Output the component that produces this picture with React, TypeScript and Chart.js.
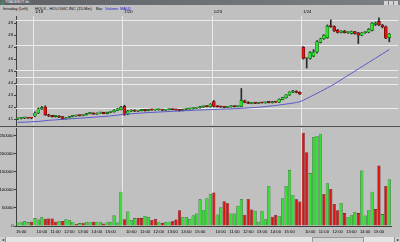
import React, { useEffect, useRef } from 'react';
import { Chart, registerables } from 'chart.js';

Chart.register(...registerables);

// ---------- categories ----------
const sessionSlots = [
  '09:30', '09:45', '10:00', '10:15', '10:30', '10:45', '11:00', '11:15', '11:30', '11:45',
  '12:00', '12:15', '12:30', '12:45', '13:00', '13:15', '13:30', '13:45', '14:00', '14:15',
  '14:30', '14:45', '15:00', '15:15', '15:30', '15:45',
];
const tradingDays = ['1/17', '1/18', '1/20', '1/23', '1/24'];
const firstDayStartSlot = 21; // the chart opens on the last five bars of 1/17

const categories: string[] = [];
tradingDays.forEach((d, di) =>
  sessionSlots.slice(di === 0 ? firstDayStartSlot : 0).forEach((s) => categories.push(d + ' ' + s)),
);

// ---------- price series (15-min bars) ----------
const opens = [
  41.00, 41.05, 41.08, 41.10, 41.07,
  41.25, 41.50, 41.85, 42.00, 41.35, 41.25, 41.20, 41.25, 41.20, 41.00, 41.10, 41.20, 41.25, 41.30, 41.27, 41.35, 41.45, 41.50, 41.40, 41.50, 41.55, 41.45, 41.55, 41.60, 41.72, 41.78,
  42.05, 41.40, 41.65, 41.75, 41.65, 41.70, 41.75, 41.70, 41.80, 41.75, 41.77, 41.80, 41.73, 41.78, 41.82, 41.78, 41.75, 41.70, 41.80, 41.84, 41.86, 41.90, 41.93, 42.02, 42.04, 42.02,
  42.45, 42.05, 42.02, 42.00, 41.96, 42.00, 42.08, 42.03, 42.06, 42.52, 42.40, 42.30, 42.35, 42.31, 42.36, 42.34, 42.40, 42.35, 42.45, 42.40, 42.62, 42.78, 43.00, 43.25, 43.32, 43.22,
  47.00, 46.08, 46.05, 46.25, 46.60, 47.40, 47.70, 47.80, 48.80, 48.72, 48.42, 48.22, 48.35, 48.20, 48.15, 48.30, 48.20, 48.00, 48.20, 48.25, 48.40, 48.90, 49.15, 48.85, 48.70, 47.80,
];
const highs = [
  41.08, 41.12, 41.14, 41.14, 41.12,
  41.60, 41.92, 42.05, 42.10, 41.40, 41.30, 41.28, 41.28, 41.22, 41.12, 41.22, 41.28, 41.32, 41.33, 41.38, 41.48, 41.52, 41.53, 41.52, 41.56, 41.57, 41.57, 41.62, 41.78, 41.88, 42.05,
  42.15, 41.72, 41.78, 41.78, 41.72, 41.77, 41.77, 41.82, 41.82, 41.80, 41.82, 41.82, 41.80, 41.84, 41.84, 41.83, 41.78, 41.82, 41.86, 41.88, 41.92, 41.96, 42.05, 42.06, 42.12, 42.28,
  42.55, 42.10, 42.06, 42.04, 42.03, 42.12, 42.10, 42.08, 43.55, 42.58, 42.45, 42.38, 42.38, 42.38, 42.40, 42.42, 42.45, 42.48, 42.48, 42.68, 42.82, 43.05, 43.28, 43.40, 43.36, 43.26,
  47.05, 46.15, 46.62, 46.80, 47.55, 47.75, 48.05, 48.85, 49.28, 48.78, 48.48, 48.38, 48.40, 48.28, 48.34, 48.33, 48.24, 48.22, 48.28, 48.55, 49.05, 49.10, 49.45, 48.90, 48.75, 48.15,
];
const lows = [
  40.95, 41.00, 41.03, 41.04, 41.02,
  41.20, 41.45, 41.80, 41.30, 41.20, 41.15, 41.15, 41.12, 40.95, 40.98, 41.08, 41.18, 41.22, 41.24, 41.25, 41.32, 41.42, 41.38, 41.38, 41.46, 41.43, 41.43, 41.52, 41.57, 41.70, 41.75,
  41.30, 41.35, 41.62, 41.62, 41.62, 41.67, 41.66, 41.68, 41.72, 41.72, 41.74, 41.70, 41.70, 41.75, 41.76, 41.72, 41.65, 41.68, 41.77, 41.80, 41.83, 41.87, 41.90, 41.96, 42.00, 41.98,
  42.00, 41.98, 41.96, 41.92, 41.94, 41.98, 42.00, 42.00, 42.02, 42.35, 42.28, 42.27, 42.28, 42.29, 42.32, 42.32, 42.34, 42.33, 42.37, 42.38, 42.60, 42.75, 42.98, 43.20, 43.18, 43.05,
  46.00, 45.25, 46.00, 46.20, 46.50, 47.35, 47.65, 47.75, 48.65, 48.30, 48.18, 48.18, 48.18, 48.15, 48.10, 48.08, 47.30, 47.95, 48.15, 48.20, 48.35, 48.80, 48.80, 48.60, 47.70, 47.45,
];
const closes = [
  41.05, 41.08, 41.10, 41.07, 41.06,
  41.50, 41.85, 41.95, 41.35, 41.25, 41.20, 41.25, 41.15, 41.00, 41.10, 41.20, 41.25, 41.28, 41.27, 41.35, 41.45, 41.48, 41.40, 41.50, 41.53, 41.45, 41.55, 41.58, 41.75, 41.85, 42.00,
  41.35, 41.68, 41.75, 41.65, 41.70, 41.75, 41.70, 41.80, 41.75, 41.77, 41.80, 41.73, 41.78, 41.82, 41.78, 41.75, 41.70, 41.80, 41.84, 41.86, 41.90, 41.93, 42.02, 42.04, 42.02, 42.25,
  42.05, 42.02, 42.00, 41.96, 42.00, 42.10, 42.03, 42.06, 42.55, 42.38, 42.30, 42.35, 42.31, 42.36, 42.34, 42.40, 42.37, 42.45, 42.40, 42.65, 42.80, 43.02, 43.25, 43.30, 43.22, 43.08,
  46.05, 46.10, 46.55, 46.60, 47.45, 47.70, 48.00, 48.75, 48.70, 48.35, 48.22, 48.35, 48.20, 48.25, 48.30, 48.12, 48.00, 48.20, 48.25, 48.50, 49.00, 49.00, 48.85, 48.70, 47.75, 48.10,
];
// moving-average line
const maValues = [
  40.72, 40.73, 40.74, 40.75, 40.77,
  40.78, 40.80, 40.83, 40.86, 40.89, 40.91, 40.93, 40.95, 40.97, 40.99, 41.01, 41.03, 41.05, 41.07, 41.09, 41.11, 41.13, 41.15, 41.17, 41.19, 41.21, 41.23, 41.26, 41.29, 41.32, 41.36,
  41.40, 41.42, 41.44, 41.46, 41.48, 41.50, 41.52, 41.54, 41.55, 41.57, 41.58, 41.60, 41.61, 41.63, 41.64, 41.66, 41.67, 41.69, 41.70, 41.71, 41.72, 41.74, 41.75, 41.76, 41.78, 41.79,
  41.80, 41.81, 41.82, 41.83, 41.84, 41.85, 41.86, 41.87, 41.89, 41.91, 41.93, 41.95, 41.97, 41.99, 42.01, 42.04, 42.07, 42.10, 42.13, 42.17, 42.21, 42.25, 42.29, 42.33, 42.38, 42.44,
  42.57, 42.71, 42.85, 43.00, 43.15, 43.30, 43.45, 43.60, 43.75, 43.92, 44.10, 44.28, 44.46, 44.64, 44.82, 45.00, 45.18, 45.36, 45.54, 45.72, 45.90, 46.08, 46.26, 46.44, 46.62, 46.80,
];
// horizontal reference lines drawn on the price pane
const levelLines = [49.25, 47.17, 45.08, 44.5, 43.92, 41.92];
const priceTicks = [41, 42, 43, 44, 45, 46, 47, 48, 49];

// ---------- volume ----------
const volumes = [
  10000, 12000, 13000, 11000, 12000,
  22000, 18000, 24000, 20000, 21000, 21000, 12000, 14000, 14000, 19000, 17000, 12000, 6000, 8000, 9000, 12000, 12000, 12000, 12000, 12000, 7000, 12000, 12000, 30000, 10000, 95000,
  19000, 40000, 17000, 22000, 22000, 22000, 28000, 25000, 17000, 20000, 12000, 8000, 12000, 12000, 13000, 18000, 44000, 25000, 25000, 20000, 30000, 35000, 74000, 44000, 77000, 89000,
  93000, 32000, 52000, 69000, 63000, 35000, 35000, 56000, 74000, 31000, 75000, 46000, 42000, 12000, 42000, 19000, 111000, 26000, 31000, 28000, 77000, 111000, 156000, 86000, 74000, 68000,
  259000, 205000, 147000, 247000, 250000, 256000, 89000, 119000, 103000, 61000, 44000, 64000, 36000, 25000, 30000, 39000, 36000, 154000, 29000, 44000, 95000, 47000, 168000, 33000, 111000, 130000,
];
const volumeUp = [
  1, 1, 1, 1, 0,
  1, 1, 1, 0, 0, 0, 0, 1, 0, 1, 1, 1, 0, 1, 0, 1, 1, 0, 1, 1, 0, 1, 1, 1, 1, 1,
  0, 1, 1, 1, 0, 0, 1, 1, 0, 0, 1, 0, 1, 1, 0, 0, 0, 1, 1, 1, 1, 1, 1, 1, 1, 1,
  0, 1, 1, 0, 0, 1, 1, 1, 1, 0, 0, 0, 1, 1, 1, 1, 1, 0, 0, 1, 1, 1, 1, 1, 0, 0,
  0, 0, 1, 1, 1, 1, 0, 1, 0, 0, 0, 1, 0, 1, 1, 1, 0, 1, 1, 1, 1, 0, 0, 1, 0, 1,
];
const volumeTicks = [0, 50000, 100000, 150000, 200000, 250000];

// ---------- styling ----------
const FONT = "'Liberation Sans', Arial, sans-serif";
const UP = '#33e033';
const UP_EDGE = '#0d5e0d';
const DOWN = '#d81414';
const DOWN_EDGE = '#5e0808';
const DAY_LINE = '#ebebeb';
const AXIS = '#404040';

const slotOf = (i: number) => (categories[i] || '').split(' ')[1] || '';
const dayOf = (i: number) => (categories[i] || '').split(' ')[0] || '';
const isDayStart = (i: number) => i > 0 && slotOf(i) === '09:30';
const dayGrid = (c: any) => (isDayStart(c.index) ? DAY_LINE : 'rgba(0,0,0,0)');

const levelPlugin = {
  id: 'levelLines',
  beforeDatasetsDraw(chart: any) {
    const { ctx, chartArea, scales } = chart;
    ctx.save();
    ctx.strokeStyle = '#ececec';
    ctx.lineWidth = 1;
    levelLines.forEach((v) => {
      const py = Math.round(scales.y.getPixelForValue(v)) + 0.5;
      ctx.beginPath();
      ctx.moveTo(chartArea.left, py);
      ctx.lineTo(chart.width - 2, py);
      ctx.stroke();
    });
    ctx.restore();
  },
};

export default function App() {
  const priceRef = useRef<HTMLCanvasElement>(null);
  const volRef = useRef<HTMLCanvasElement>(null);

  useEffect(() => {
    const up = closes.map((c, i) => c >= opens[i]);
    const price = new Chart(priceRef.current as HTMLCanvasElement, {
      type: 'bar',
      data: {
        labels: categories,
        datasets: [
          {
            type: 'line',
            data: maValues,
            borderColor: '#5858c8',
            borderWidth: 1,
            pointRadius: 0,
            tension: 0,
            order: 0,
          } as any,
          {
            data: opens.map((o, i) => [Math.min(o, closes[i]), Math.max(o, closes[i])]),
            backgroundColor: up.map((u) => (u ? UP : DOWN)),
            borderColor: up.map((u) => (u ? UP_EDGE : DOWN_EDGE)),
            borderWidth: 0.6,
            borderSkipped: false,
            barThickness: 3,
            minBarLength: 1.2,
            grouped: false,
            order: 1,
          } as any,
          {
            data: lows.map((l, i) => [l, highs[i]]),
            backgroundColor: '#2a2a2a',
            borderWidth: 0,
            barThickness: 1,
            grouped: false,
            order: 2,
          } as any,
        ],
      },
      options: {
        animation: false,
        responsive: false,
        maintainAspectRatio: false,
        devicePixelRatio: 1,
        layout: { padding: { left: 0, right: 9, top: 0, bottom: 2 } },
        plugins: { legend: { display: false }, tooltip: { enabled: false } },
        scales: {
          x: {
            position: 'top',
            offset: true,
            grid: { offset: true, color: dayGrid, drawTicks: false, lineWidth: 1 },
            border: { display: false },
            ticks: {
              autoSkip: false,
              maxRotation: 0,
              align: 'start',
              padding: 2,
              color: '#000',
              font: { size: 4.2, family: FONT },
              callback: (_v: any, i: number) => (isDayStart(i) || i === 0 ? (i === 0 ? '' : dayOf(i)) : ''),
            },
            afterFit: (s: any) => {
              s.height = 10;
              s.paddingLeft = 0;
              s.paddingRight = 0;
            },
          },
          y: {
            min: 40.5,
            max: 49.6,
            afterBuildTicks: (s: any) => {
              s.ticks = priceTicks.map((v) => ({ value: v }));
            },
            afterFit: (s: any) => {
              s.width = 16;
              s.paddingTop = 0;
              s.paddingBottom = 0;
            },
            grid: { drawOnChartArea: false, tickLength: 2, color: AXIS },
            border: { color: AXIS, width: 1 },
            ticks: { padding: 1, color: '#000', font: { size: 4.2, family: FONT } },
          },
        },
      } as any,
      plugins: [levelPlugin],
    });

    const vol = new Chart(volRef.current as HTMLCanvasElement, {
      type: 'bar',
      data: {
        labels: categories,
        datasets: [
          {
            data: volumes,
            backgroundColor: volumeUp.map((u) => (u ? UP : DOWN)),
            borderColor: volumeUp.map((u) => (u ? UP_EDGE : DOWN_EDGE)),
            borderWidth: 0.6,
            borderSkipped: 'bottom',
            barPercentage: 0.92,
            categoryPercentage: 1,
          },
        ],
      },
      options: {
        animation: false,
        responsive: false,
        maintainAspectRatio: false,
        devicePixelRatio: 1,
        layout: { padding: { left: 0, right: 9, top: 1, bottom: 0 } },
        plugins: { legend: { display: false }, tooltip: { enabled: false } },
        scales: {
          x: {
            offset: true,
            grid: { offset: true, color: dayGrid, drawTicks: false, lineWidth: 1 },
            border: { color: AXIS, width: 1 },
            ticks: {
              autoSkip: false,
              maxRotation: 0,
              padding: 3,
              color: '#000',
              font: { size: 4.2, family: FONT },
              callback: (_v: any, i: number) => (slotOf(i).endsWith(':00') ? slotOf(i) : ''),
            },
            afterFit: (s: any) => {
              s.height = 11;
              s.paddingLeft = 0;
              s.paddingRight = 0;
            },
          },
          y: {
            min: 0,
            max: 272000,
            afterBuildTicks: (s: any) => {
              s.ticks = volumeTicks.map((v) => ({ value: v }));
            },
            afterFit: (s: any) => {
              s.width = 16;
              s.paddingTop = 0;
              s.paddingBottom = 0;
            },
            grid: { drawOnChartArea: false, tickLength: 2, color: AXIS },
            border: { color: AXIS, width: 1 },
            ticks: {
              padding: 0.5,
              color: '#000',
              font: { size: 4.2, family: FONT },
              callback: (v: any) => String(v),
            },
          },
        },
      } as any,
    });

    return () => {
      price.destroy();
      vol.destroy();
    };
  }, []);

  const hdr: React.CSSProperties = { position: 'absolute', top: 5.5, fontSize: 4, lineHeight: '5px', whiteSpace: 'nowrap' };

  return (
    <div
      style={{
        position: 'fixed',
        left: 0,
        top: 0,
        width: 400,
        height: 242,
        background: '#c0c0c0',
        overflow: 'hidden',
        fontFamily: FONT,
      }}
    >
      {/* window title bar */}
      <div
        style={{
          position: 'absolute', left: 0, top: 0, width: 400, height: 5,
          background: 'linear-gradient(to right, #5e6266, #7c8084)',
        }}
      />
      <div style={{ position: 'absolute', left: 0.5, top: 0.5, width: 3, height: 4, background: '#2f8f6f' }} />
      <div style={{ position: 'absolute', left: 5, top: 0, fontSize: 3.6, lineHeight: '5px', color: '#f0f0f0', whiteSpace: 'nowrap' }}>
        TRADEBOT.tbt
      </div>
      <div style={{ position: 'absolute', left: 384, top: 0.5, width: 4, height: 4, background: '#d4d4d4' }} />
      <div style={{ position: 'absolute', left: 389, top: 0.5, width: 4, height: 4, background: '#d4d4d4' }} />
      <div style={{ position: 'absolute', left: 394, top: 0.5, width: 4, height: 4, background: '#d4d4d4' }} />

      {/* header line */}
      <div style={{ ...hdr, left: 3, color: '#000' }}>Intraday (Left)</div>
      <div style={{ ...hdr, left: 35, color: '#000' }}>HOLX - HOLOGIC INC (15-Min)</div>
      <div style={{ ...hdr, left: 96, color: '#000' }}>Bar</div>
      <div style={{ ...hdr, left: 105, color: '#1a1ad0' }}>Volume</div>
      <div style={{ ...hdr, left: 120, color: '#1a1ad0' }}>MA(4)</div>

      <canvas
        ref={priceRef}
        width={400}
        height={121}
        style={{ position: 'absolute', left: 0, top: 6, width: 400, height: 121 }}
      />
      <div style={{ position: 'absolute', left: 0, top: 126, width: 400, height: 1, background: '#505050' }} />
      <canvas
        ref={volRef}
        width={400}
        height={110}
        style={{ position: 'absolute', left: 0, top: 127, width: 400, height: 110 }}
      />

      {/* scroll bar */}
      <div style={{ position: 'absolute', left: 0, top: 237, width: 400, height: 5, background: '#e4e4e4' }} />
      <div style={{ position: 'absolute', left: 0, top: 237, width: 5, height: 5, background: '#d0d0d0', borderRight: '1px solid #909090', fontSize: 4, lineHeight: '5px', textAlign: 'center' }}>◂</div>
      <div style={{ position: 'absolute', left: 394, top: 237, width: 6, height: 5, background: '#d0d0d0', borderLeft: '1px solid #909090', fontSize: 4, lineHeight: '5px', textAlign: 'center' }}>▸</div>
      <div style={{ position: 'absolute', left: 312, top: 237, width: 50, height: 4, background: '#d6d6d6', border: '0.5px solid #9a9a9a' }} />
    </div>
  );
}
